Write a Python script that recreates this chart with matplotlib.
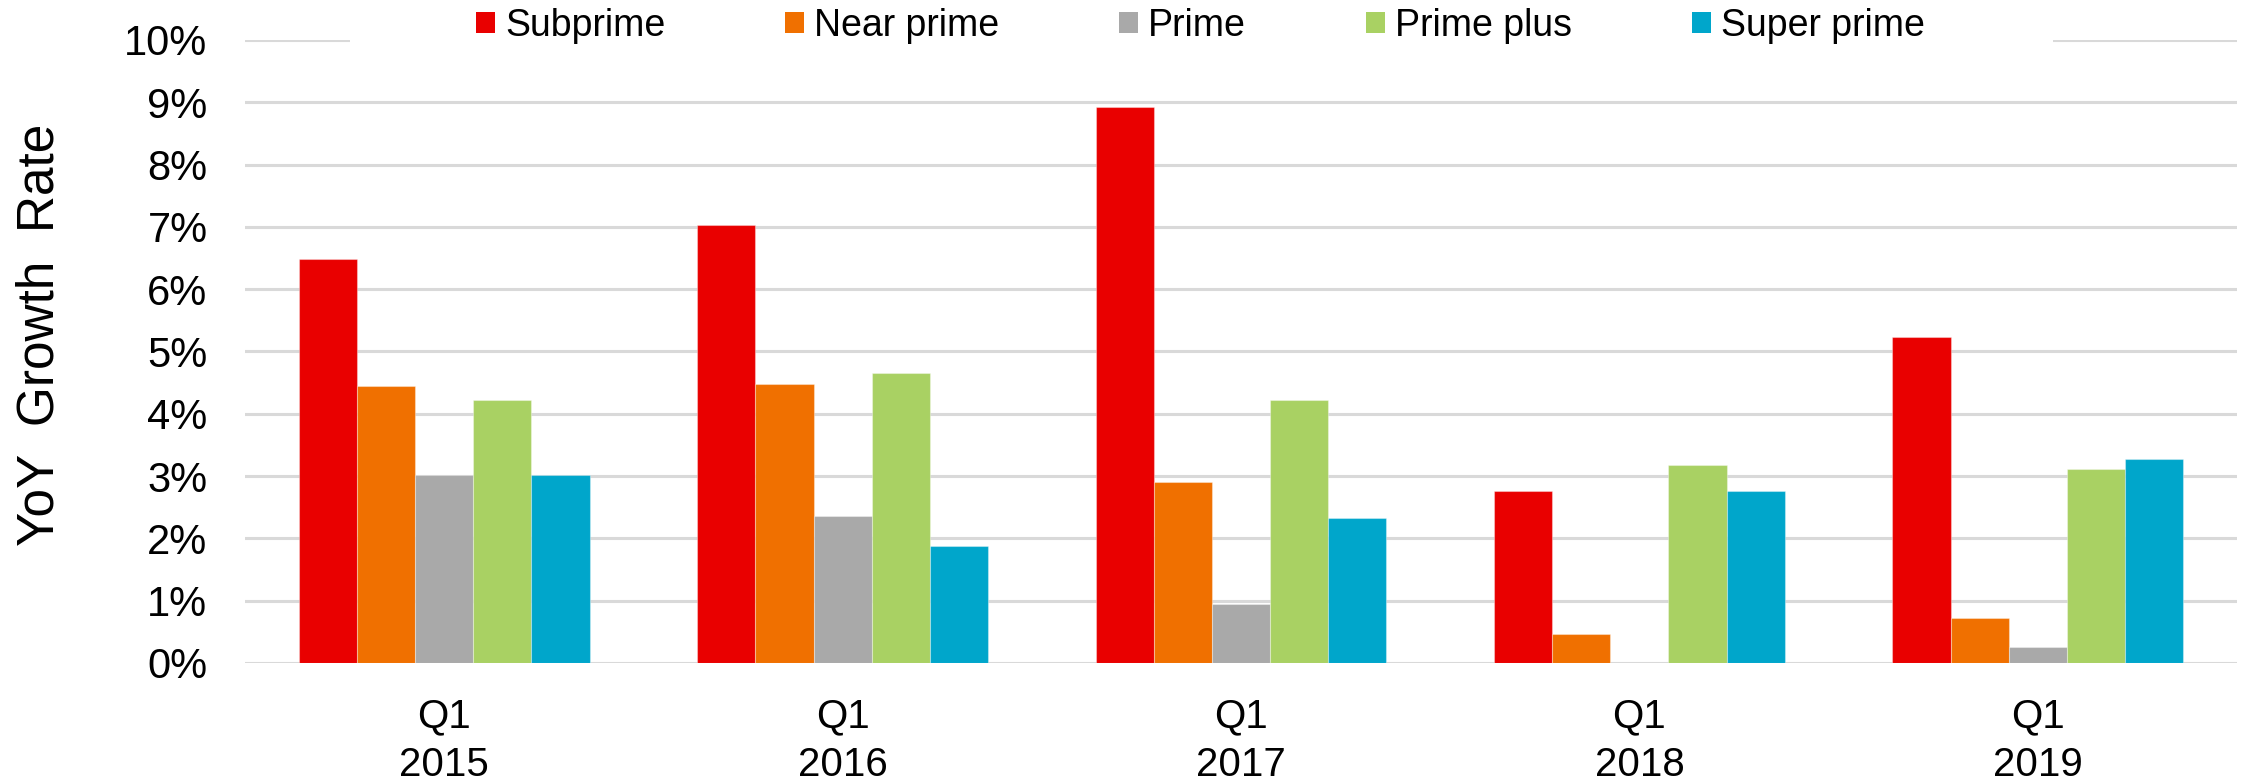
import matplotlib
matplotlib.use("Agg")
import matplotlib.pyplot as plt
from matplotlib import font_manager
from matplotlib.patches import Patch, Rectangle
import matplotlib.transforms as mtransforms
import numpy as np

categories = ["Q1\n2015", "Q1\n2016", "Q1\n2017", "Q1\n2018", "Q1\n2019"]
series_names = ["Subprime", "Near prime", "Prime", "Prime plus", "Super prime"]
subprime = [6.48, 7.03, 8.93, 2.76, 5.23]
near_prime = [4.45, 4.48, 2.90, 0.46, 0.73]
prime = [3.01, 2.36, 0.95, -0.03, 0.25]
prime_plus = [4.22, 4.66, 4.22, 3.18, 3.12]
super_prime = [3.01, 1.88, 2.33, 2.76, 3.28]
yticks = list(range(0, 11))
ytick_labels = [f"{v}%" for v in yticks]

colors = ["#E90000", "#F07000", "#A9A9A9", "#A9D163", "#00A6CB"]

names = {f.name for f in font_manager.fontManager.ttflist}
base = "Liberation Sans" if "Liberation Sans" in names else "DejaVu Sans"
narrow = "Liberation Sans Narrow" if "Liberation Sans Narrow" in names else base
plt.rcParams["font.family"] = [base, "DejaVu Sans"]

W, H = 2244, 781
fig = plt.figure(figsize=(W / 100, H / 100), dpi=100)
ax_l, ax_r, ax_t, ax_b = 245, 2237, 40, 663
ax = fig.add_axes([ax_l / W, 1 - ax_b / H, (ax_r - ax_l) / W, (ax_b - ax_t) / H])

data = [subprime, near_prime, prime, prime_plus, super_prime]
x = np.arange(len(categories))
bw = 0.146
for i, (vals, c) in enumerate(zip(data, colors)):
    ax.bar(x + (i - 2) * bw, vals, width=bw, color=c, edgecolor=(1, 1, 1, 0.35),
           linewidth=0.8, zorder=2)

ax.set_xlim(-0.5, len(categories) - 0.5)
ax.set_ylim(0, 10)
ax.set_yticks(yticks)
ax.set_yticklabels(ytick_labels)
ax.set_xticks(x)
ax.set_xticklabels(categories, linespacing=1.33)
ax.tick_params(axis="y", length=0, pad=27, labelsize=30)
ax.tick_params(axis="x", length=0, pad=25, labelsize=29)
ax.yaxis.grid(True, color="#D9D9D9", linewidth=2.2, zorder=0)
ax.set_axisbelow(True)
for s in ax.spines.values():
    s.set_visible(False)

fig.text(40 / W, 1 - 335 / H, "YoY  Growth  Rate", rotation=90, ha="center", va="center",
         fontsize=37, family=[narrow, "DejaVu Sans"])

# white band behind legend interrupting the top gridline
trans = mtransforms.blended_transform_factory(ax.transAxes, ax.transData)
ax.add_patch(Rectangle(((350 - ax_l) / (ax_r - ax_l), 9.75), (2053 - 350) / (ax_r - ax_l), 0.5,
                       transform=trans, facecolor="white", edgecolor="none",
                       clip_on=False, zorder=1))

handles = [Patch(facecolor=c, edgecolor="none") for c in colors]
fig.legend(handles, series_names, loc="center left", bbox_to_anchor=(476 / W, 1 - 26 / H),
           ncol=5, frameon=False, fontsize=27, borderpad=0, borderaxespad=0,
           handlelength=0.5, handleheight=0.5, handletextpad=0.27, columnspacing=3.2)

fig.savefig("out.png", dpi=100)
